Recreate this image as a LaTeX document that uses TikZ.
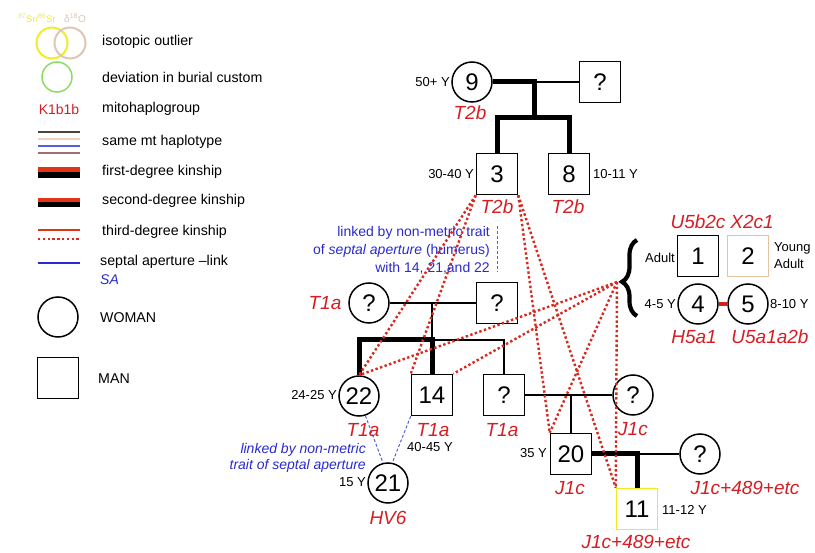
\documentclass[tikz,border=0pt]{standalone}
\usepackage{fontspec}
\setmainfont{Liberation Sans}
\usetikzlibrary{decorations.pathreplacing}
\definecolor{hapred}{RGB}{212,30,36}
\definecolor{dotred}{RGB}{214,42,32}
\definecolor{bandred}{RGB}{226,52,22}
\definecolor{sablue}{RGB}{42,42,205}
\definecolor{dashblue}{RGB}{85,98,215}
\definecolor{srcol}{RGB}{240,236,40}
\definecolor{ocol}{RGB}{222,198,178}
\definecolor{burial}{RGB}{140,220,100}
\definecolor{tanbox}{RGB}{228,196,160}
\definecolor{yelbox}{RGB}{242,234,20}
\definecolor{mtgrey}{RGB}{75,68,60}
\definecolor{mtpeach}{RGB}{240,208,184}
\definecolor{mtrose}{RGB}{160,112,112}
\begin{document}
\begin{tikzpicture}[x=1pt,y=1pt,yscale=-1,
  woman/.style={circle,draw,line width=1.5pt,fill=white,minimum size=40pt,inner sep=0pt,font=\fontsize{24}{24}\selectfont},
  man/.style={rectangle,draw,line width=1.5pt,fill=white,minimum size=41pt,inner sep=0pt,font=\fontsize{24}{24}\selectfont},
  kin1/.style={line width=5pt},
  mate/.style={line width=2pt},
  third/.style={dotred,line width=2.4pt,dash pattern=on 2.4pt off 2.4pt},
  sa/.style={dashblue,line width=1pt,dash pattern=on 3pt off 2pt},
  age/.style={inner sep=1pt,font=\fontsize{13}{15}\selectfont},
  hap/.style={inner sep=0pt,text=hapred,font=\fontsize{19}{22}\selectfont\itshape},
  legtext/.style={anchor=west,inner sep=0pt,font=\fontsize{14.2}{16}\selectfont},
  bluetext/.style={inner sep=0pt,text=sablue,align=right,font=\fontsize{14}{18}\selectfont}]
\useasboundingbox (0,0) rectangle (815,553);

% legend
\node[inner sep=0pt,text=srcol,font=\fontsize{9.5}{10}\selectfont] (srlab) at (37,18) {\textsuperscript{87}Sr/\textsuperscript{86}Sr};
\node[inner sep=0pt,text=ocol,font=\fontsize{10}{10}\selectfont] (olab) at (75,18) {δ\textsuperscript{18}O};
\draw[srcol,line width=2pt] (52,43) circle (15.5);
\draw[ocol,line width=2pt] (70,43) circle (15.5);
\draw[burial,line width=1.5pt] (57,77) circle (15);
\node[inner sep=0pt,text=hapred,font=\fontsize{14}{16}\selectfont] (k1b1b) at (59,109) {K1b1b};
\draw[mtgrey,line width=1.5pt] (38,132) -- (80,132);
\draw[mtpeach,line width=1.5pt] (38,139) -- (80,139);
\draw[dashblue,line width=1.8pt] (38,146) -- (80,146);
\draw[mtrose,line width=1.5pt] (38,153) -- (80,153);
\fill[bandred] (38,167) rectangle (80,172.5);
\fill[black] (38,172.5) rectangle (80,178);
\fill[bandred] (38,198) rectangle (80,202.5);
\fill[black] (38,202.5) rectangle (80,207);
\draw[bandred,line width=2pt] (38,230) -- (80,230);
\draw[third] (38,239) -- (80,239);
\draw[sablue,line width=1.2pt] (38,263) -- (80,263);
\node[woman] (lw) at (58,317) {};
\node[man] (lm) at (58,378) {};
\node[legtext] at (102,42) {isotopic outlier};
\node[legtext] at (102,77) {deviation in burial custom};
\node[legtext] at (102,109) {mitohaplogroup};
\node[legtext] at (102,142) {same mt haplotype};
\node[legtext] at (102,172) {first-degree kinship};
\node[legtext] at (102,201) {second-degree kinship};
\node[legtext] at (102,232) {third-degree kinship};
\node[legtext] at (100,262) {septal aperture –link};
\node[legtext,text=sablue,font=\fontsize{14}{16}\selectfont\itshape] at (100,280) {SA};
\node[legtext] at (100,318) {WOMAN};
\node[legtext] at (98,379) {MAN};

% individuals
\node[woman] (n9) at (472,82) {9};
\node[man] (f9) at (600,82) {?};
\node[man] (n3) at (497,174) {3};
\node[man] (n8) at (569,174) {8};
\node[man] (n1) at (698,256) {1};
\node[man,draw=tanbox] (n2) at (748,256) {2};
\node[woman] (n4) at (698,304) {4};
\node[woman] (n5) at (748,304) {5};
\node[woman] (m14) at (369,303) {?};
\node[man] (f14) at (497,303) {?};
\node[woman] (n22) at (359,396) {22};
\node[man] (n14) at (432,395) {14};
\node[man] (f20) at (504,395) {?};
\node[woman] (m20) at (633,395) {?};
\node[man] (n20) at (571,454) {20};
\node[woman] (m11) at (700,454) {?};
\node[man,draw=yelbox] (n11) at (637,509) {11};
\node[woman] (n21) at (388,483) {21};

% kinship lines
\coordinate (u9) at (534,82);
\coordinate (s9) at (534,118);
\draw[kin1] (n9) -- (u9) -- (s9);
\draw[mate] (u9) -- (f9);
\draw[kin1] (n3.north) |- (s9) -| (n8.north);
\coordinate (u14) at (432,303);
\coordinate (s14) at (432,340);
\draw[mate] (m14) -- (f14);
\draw[mate] (u14) -- (s14);
\draw[kin1] (n22.north) |- (s14) -- (n14.north);
\draw[mate] (s14) -| (f20.north);
\coordinate (u20) at (571,395);
\draw[mate] (f20) -- (m20);
\draw[mate] (u20) -- (n20.north);
\coordinate (u11) at (637,454);
\draw[kin1] (n20) -- (u11) -- (n11.north);
\draw[mate] (u11) -- (m11);
\draw[hapred,line width=3.5pt] (n4) -- (n5);

% brace and third-degree links
\draw[decorate,decoration={brace,amplitude=15pt,aspect=0.45},line width=4.2pt] (637,316) -- (637,240);
\coordinate (br) at (617,282);
\draw[third] (n3.south west) -- (n22.north);
\draw[third] (n3.south west) -- (n14.north west);
\draw[third] (n3.south east) -- (n20.north west);
\draw[third] (n3.south east) -- (n11.north west);
\foreach \t in {n22.north,n14.north east,n20.north west,n11.north west}
  \draw[third] (br) -- (\t);

% septal aperture links
\draw[sa] (n22.-72) -- (n21.104);
\draw[sa] (n14.south west) -- (n21.78);
\coordinate (sa1) at (497,226);
\coordinate (sa2) at (497,272);
\draw[sa] (sa1) -- (sa2);
\node[bluetext,anchor=east] (satop) at (490,250) {linked by non-metric trait\\of \textit{septal aperture} (humerus)\\with 14, 21,and 22};
\node[bluetext,anchor=east,font=\fontsize{14}{16}\selectfont\itshape] (salow) at (366,458) {linked by non-metric\\trait of septal aperture};

% ages
\node[age,anchor=east] at (451,82) {50+ Y};
\node[age,anchor=east] at (475,174) {30-40 Y};
\node[age,anchor=west] at (592,174) {10-11 Y};
\node[age,anchor=east] at (676,258) {Adult};
\node[age,anchor=west,align=left,font=\fontsize{13}{17}\selectfont] at (773,256) {Young\\Adult};
\node[age,anchor=east] at (677,304) {4-5 Y};
\node[age,anchor=west] at (769,304) {8-10 Y};
\node[age,anchor=east] at (338,395) {24-25 Y};
\node[age] at (430,447) {40-45 Y};
\node[age,anchor=east] at (548,453) {35 Y};
\node[age,anchor=west] at (661,510) {11-12 Y};
\node[age,anchor=east] at (367,482) {15 Y};

% mitohaplogroups
\node[hap] at (470,113) {T2b};
\node[hap] at (497,207) {T2b};
\node[hap] at (568,207) {T2b};
\node[hap] at (698,222) {U5b2c};
\node[hap] at (752,222) {X2c1};
\node[hap] at (694,337) {H5a1};
\node[hap] at (770,337) {U5a1a2b};
\node[hap] at (325,303) {T1a};
\node[hap] at (363,430) {T1a};
\node[hap] at (433,430) {T1a};
\node[hap] at (502,430) {T1a};
\node[hap] at (633,429) {J1c};
\node[hap] at (570,488) {J1c};
\node[hap] at (745,488) {J1c+489+etc};
\node[hap] at (636,542) {J1c+489+etc};
\node[hap] at (388,518) {HV6};
\end{tikzpicture}
\end{document}
